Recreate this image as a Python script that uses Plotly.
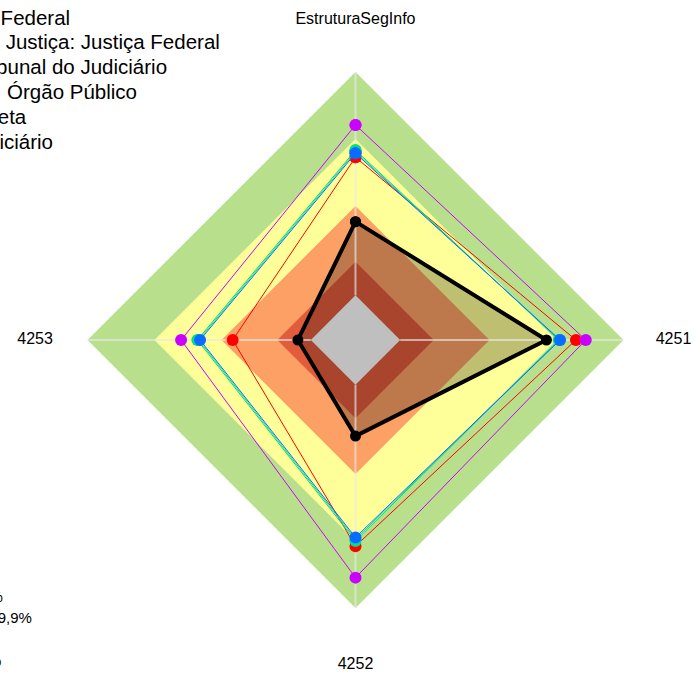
import plotly.graph_objects as go

# ---------------- data ----------------
categories = ["EstruturaSegInfo", "4251", "4252", "4253"]

band_levels = [100, 70, 40, 15, 0]
band_colors = ["#B8E08C", "#FFFF99", "#FCA066", "#E25C3C", "#FFFFFF"]
band_names = [
    "Aprimorado: de 70% a 100%",
    "Intermediário: de 40% a 69,9%",
    "Iniciando: de 15% a 39,9%",
    "Inexpressivo: de 0% a 14,9%",
]

series_names = [
    "Tribunal Regional Federal",
    "Segmento de Justiça: Justiça Federal",
    "Tipo de Tribunal do Judiciário",
    "Natureza de\u00a0 Órgão Público",
    "Administração Direta",
    "Poder Judiciário",
]
black_vals = [33.0, 65.5, 23.0, 5.8]
red_vals = [61.8, 78.7, 72.3, 35.0]
green_vals = [65.0, 71.0, 70.0, 50.8]
cyan_vals = [64.3, 71.3, 69.2, 50.2]
blue_vals = [63.6, 71.6, 68.4, 49.6]
magenta_vals = [76.3, 83.1, 86.4, 58.1]

series_values = [black_vals, red_vals, green_vals, cyan_vals, blue_vals, magenta_vals]
series_colors = ["#000000", "#FF0000", "#00E64D", "#00D2D2", "#0A6CFF", "#CC00FF"]

R_MIN, R_TOP, R_MAX = -20, 100, 128   # R_MAX leaves room for the axis labels
LABEL_R = [123.5, 122.4, 125.7, 123.5]  # label distance per axis

W, H = 695, 675
CX, CY = 355.5, 340
PX_PER_UNIT = 268 / (R_TOP - R_MIN)
RAD = (R_MAX - R_MIN) * PX_PER_UNIT
FONT = "Arial, Liberation Sans, sans-serif"


def closed(lst):
    return list(lst) + [lst[0]]


fig = go.Figure()

# background bands
for lvl, col in zip(band_levels, band_colors):
    fig.add_trace(go.Scatterpolar(
        r=[lvl] * (len(categories) + 1), theta=closed(categories),
        mode="lines", fill="toself", fillcolor=col,
        line=dict(width=0, color=col), hoverinfo="skip", showlegend=False))

# translucent fill of the main series
fig.add_trace(go.Scatterpolar(
    r=closed(black_vals), theta=closed(categories), mode="lines",
    fill="toself", fillcolor="rgba(0,0,0,0.25)",
    line=dict(width=0, color="rgba(0,0,0,0)"), hoverinfo="skip", showlegend=False))

# spokes
sp_r, sp_t = [], []
for c in categories:
    sp_r += [0, R_TOP, None]
    sp_t += [c, c, None]
fig.add_trace(go.Scatterpolar(
    r=sp_r, theta=sp_t, mode="lines",
    line=dict(width=2, color="rgba(232,232,232,0.65)"),
    hoverinfo="skip", showlegend=False))

# colored series (drawn in overlap order), then the thick black one
draw_order = [1, 5, 2, 3, 4, 0]
for i in draw_order:
    vals = series_values[i]
    is_main = i == 0
    fig.add_trace(go.Scatterpolar(
        r=closed(vals), theta=closed(categories), mode="lines+markers",
        name=series_names[i],
        line=dict(width=4 if is_main else 1, color=series_colors[i]),
        marker=dict(size=11 if is_main else 12, color=series_colors[i]),
        showlegend=False))

# axis labels
fig.add_trace(go.Scatterpolar(
    r=LABEL_R, theta=categories, mode="text",
    text=categories, textposition="middle center",
    textfont=dict(family=FONT, size=16, color="#000000"),
    cliponaxis=False, hoverinfo="skip", showlegend=False))

# legends (clipped at left edge of the page)
annotations = []
top_right = [72.4, 222.4, 168.7, 138.7, 28.9, 55.0]
top_y = [17, 41.8, 66.6, 91.4, 116.2, 141.0]
for name, xr, yc in zip(series_names, top_right, top_y):
    annotations.append(dict(
        text=name, xref="paper", yref="paper", x=xr / W, y=1 - yc / H,
        xanchor="right", yanchor="middle", showarrow=False, align="left",
        font=dict(family=FONT, size=20.5, color="#000000")))

bot_right = [4.5, 34.0, -5.0, 3.0]
bot_y = [596, 617.3, 638.6, 660]
for name, xr, yc in zip(band_names, bot_right, bot_y):
    annotations.append(dict(
        text=name, xref="paper", yref="paper", x=xr / W, y=1 - yc / H,
        xanchor="right", yanchor="middle", showarrow=False, align="left",
        font=dict(family=FONT, size=15, color="#000000")))

fig.update_layout(
    width=W, height=H,
    margin=dict(l=0, r=0, t=0, b=0, autoexpand=False),
    paper_bgcolor="white",
    showlegend=False,
    annotations=annotations,
    polar=dict(
        domain=dict(x=[(CX - RAD) / W, (CX + RAD) / W],
                    y=[(H - CY - RAD) / H, (H - CY + RAD) / H]),
        bgcolor="rgba(0,0,0,0)",
        radialaxis=dict(range=[R_MIN, R_MAX], visible=False, showgrid=False),
        angularaxis=dict(type="category", categoryarray=categories,
                         direction="clockwise", rotation=90,
                         showgrid=False, showline=False, showticklabels=False,
                         ticks=""),
    ),
)

fig.write_html("out.html", config={"displayModeBar": False},
               post_script="document.body.style.margin='0px';")
